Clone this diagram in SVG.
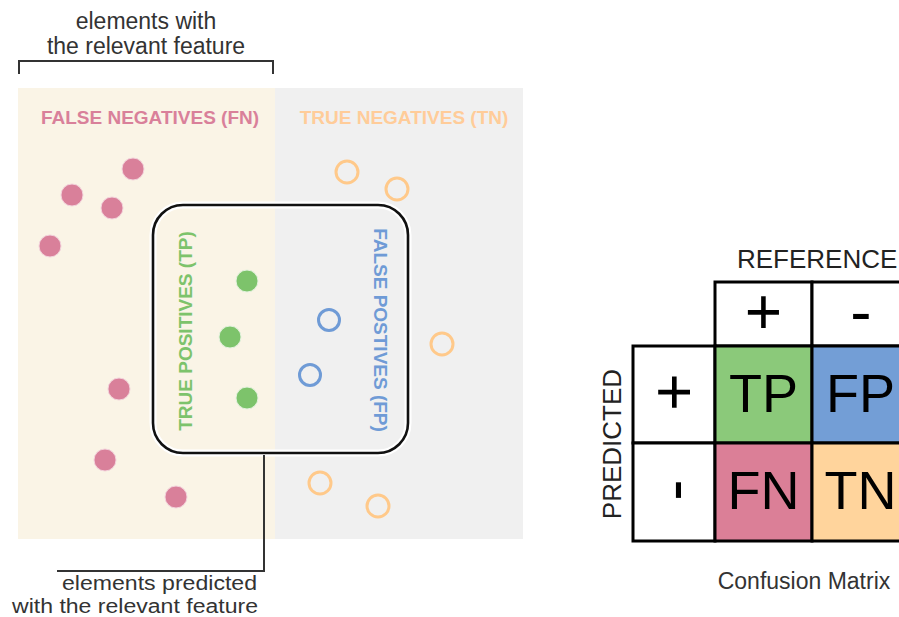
<svg xmlns="http://www.w3.org/2000/svg" width="899" height="617" viewBox="0 0 899 617">
  <style>
    .lbl { font-family: "Liberation Sans", Arial, sans-serif; font-size: 23px; fill: #333333; }
    .lbl-s { font-family: "Liberation Sans", Arial, sans-serif; font-size: 20px; fill: #333333; }
    .cat { font-family: "Liberation Sans", Arial, sans-serif; font-size: 19px; font-weight: bold; }
    .fn-dot { fill: #D9809A; stroke: #F3D3DC; stroke-width: 1; }
    .tp-dot { fill: #7DC36B; stroke: #E3F2DE; stroke-width: 1; }
    .fp-ring { fill: none; stroke: #6F9BD6; stroke-width: 3; }
    .tn-ring { fill: none; stroke: #FFC98A; stroke-width: 3; }
    .cell { stroke: #000000; stroke-width: 3; }
    .big { font-family: "Liberation Sans", Arial, sans-serif; font-size: 54px; fill: #000000; text-anchor: middle; }
    .sign { font-family: "Liberation Sans", Arial, sans-serif; font-size: 64px; fill: #000000; text-anchor: middle; }
    .head { font-family: "Liberation Sans", Arial, sans-serif; font-size: 26px; fill: #222222; }
    .conn { fill: none; stroke: #333333; stroke-width: 2; }
  </style>

  <rect width="899" height="617" fill="#ffffff"/>

  <!-- background halves -->
  <g id="region-relevant">
    <rect x="18" y="88" width="257" height="451" fill="#FAF4E6"/>
  </g>
  <g id="region-irrelevant">
    <rect x="275" y="88" width="248" height="451" fill="#F0F0F0"/>
  </g>

  <!-- category titles -->
  <g id="label-fn">
    <text class="cat" x="150" y="124" text-anchor="middle" fill="#D9809A">FALSE NEGATIVES (FN)</text>
  </g>
  <g id="label-tn">
    <text class="cat" x="404" y="124" text-anchor="middle" fill="#FFCC99">TRUE NEGATIVES (TN)</text>
  </g>

  <!-- prediction boundary -->
  <g id="predicted-set">
    <rect x="153" y="205" width="255" height="248" rx="30" ry="30" fill="none" stroke="#ffffff" stroke-width="7"/>
    <rect x="153" y="205" width="255" height="248" rx="30" ry="30" fill="none" stroke="#111111" stroke-width="2.6"/>
  </g>

  <g id="label-tp">
    <text class="cat" transform="translate(192,331) rotate(-90)" text-anchor="middle" fill="#7DC36B">TRUE POSITIVES (TP)</text>
  </g>
  <g id="label-fp">
    <text class="cat" transform="translate(374,330) rotate(90)" text-anchor="middle" fill="#6F9BD6">FALSE POSTIVES (FP)</text>
  </g>

  <!-- false negatives -->
  <g id="fn-points">
    <circle class="fn-dot" cx="133" cy="169" r="11"/>
    <circle class="fn-dot" cx="72" cy="195" r="11"/>
    <circle class="fn-dot" cx="112" cy="208" r="11"/>
    <circle class="fn-dot" cx="50" cy="246" r="11"/>
    <circle class="fn-dot" cx="119" cy="389" r="11"/>
    <circle class="fn-dot" cx="105" cy="460" r="11"/>
    <circle class="fn-dot" cx="176" cy="497" r="11"/>
  </g>

  <!-- true positives -->
  <g id="tp-points">
    <circle class="tp-dot" cx="247" cy="281" r="11"/>
    <circle class="tp-dot" cx="230" cy="337" r="11"/>
    <circle class="tp-dot" cx="247" cy="398" r="11"/>
  </g>

  <!-- false positives -->
  <g id="fp-points">
    <circle class="fp-ring" cx="329" cy="320" r="10.5"/>
    <circle class="fp-ring" cx="310" cy="375" r="10.5"/>
  </g>

  <!-- true negatives -->
  <g id="tn-points">
    <circle class="tn-ring" cx="347" cy="172" r="11"/>
    <circle class="tn-ring" cx="397" cy="189" r="11"/>
    <circle class="tn-ring" cx="442" cy="344" r="11"/>
    <circle class="tn-ring" cx="320" cy="483" r="11"/>
    <circle class="tn-ring" cx="378" cy="506" r="11"/>
  </g>

  <!-- annotations -->
  <g id="note-relevant">
    <text class="lbl" x="146" y="29" text-anchor="middle">elements with</text>
    <text class="lbl" x="146" y="54" text-anchor="middle">the relevant feature</text>
  </g>
  <g id="note-predicted">
    <text class="lbl-s" x="257" y="590" text-anchor="end" textLength="195" lengthAdjust="spacingAndGlyphs">elements predicted</text>
    <text class="lbl-s" x="258" y="612.5" text-anchor="end" textLength="246" lengthAdjust="spacingAndGlyphs">with the relevant feature</text>
  </g>

  <g id="connectors">
    <path class="conn" d="M19,74 V61 H273 V74"/>
    <path class="conn" d="M264,455 V571 H57"/>
  </g>

  <!-- confusion matrix -->
  <g id="confusion-matrix">
    <text class="head" x="737" y="268">REFERENCE</text>
    <text class="head" transform="translate(621,444) rotate(-90)" text-anchor="middle">PREDICTED</text>

    <rect class="cell" x="715" y="282" width="97" height="64" fill="#ffffff"/>
    <rect class="cell" x="812" y="282" width="97" height="64" fill="#ffffff"/>
    <rect class="cell" x="633" y="346" width="82" height="97" fill="#ffffff"/>
    <rect class="cell" x="633" y="443" width="82" height="98" fill="#ffffff"/>

    <g id="cell-tp">
      <rect class="cell" x="715" y="346" width="97" height="97" fill="#8BC97A"/>
      <text class="big" x="763.5" y="412">TP</text>
    </g>
    <g id="cell-fp">
      <rect class="cell" x="812" y="346" width="97" height="97" fill="#739ED6"/>
      <text class="big" x="860.5" y="412">FP</text>
    </g>
    <g id="cell-fn">
      <rect class="cell" x="715" y="443" width="97" height="98" fill="#DB7F97"/>
      <text class="big" x="763.5" y="509">FN</text>
    </g>
    <g id="cell-tn">
      <rect class="cell" x="812" y="443" width="97" height="98" fill="#FFD49C"/>
      <text class="big" x="860.5" y="509">TN</text>
    </g>

    <text class="sign" x="763.5" y="334">+</text>
    <text class="sign" x="861" y="334">-</text>
    <text class="sign" transform="translate(696,392) rotate(-90)">+</text>
    <text class="sign" transform="translate(696,490) rotate(-90)">-</text>

    <text class="lbl" x="804" y="589" text-anchor="middle" fill="#222222">Confusion Matrix</text>
  </g>
</svg>
